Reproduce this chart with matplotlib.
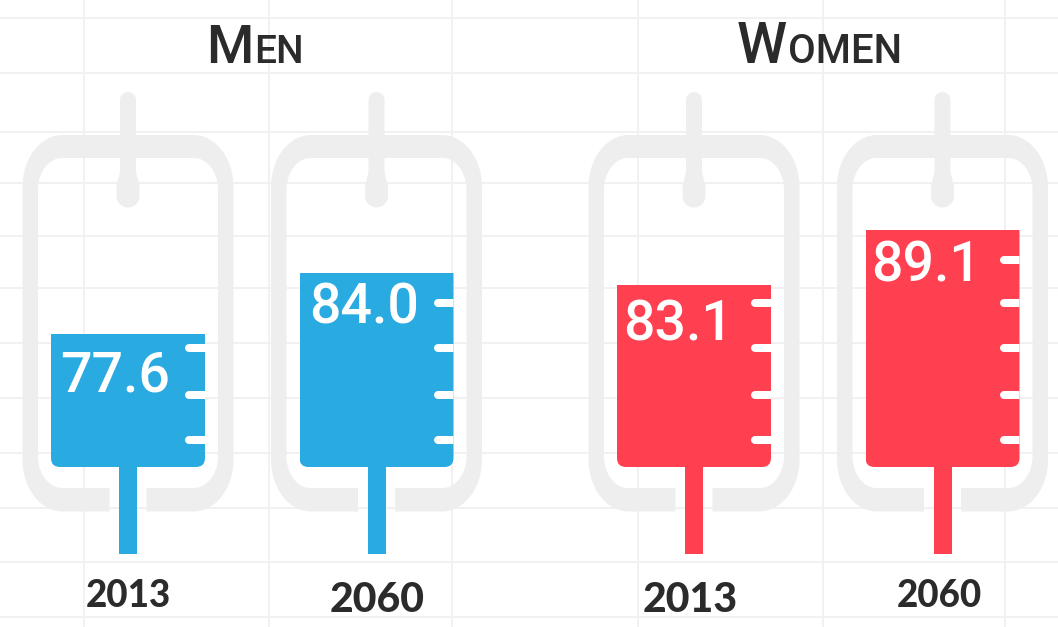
import numpy as np
import matplotlib
matplotlib.use("Agg")
import matplotlib.pyplot as plt
from matplotlib.patches import Polygon, FancyBboxPatch

groups = ["Men", "Men", "Women", "Women"]
years = ["2013", "2060", "2013", "2060"]
values = [77.6, 84.0, 83.1, 89.1]
labels = ["77.6", "84.0", "83.1", "89.1"]

W, H, DPI = 1058, 627, 100
BLUE, RED, GREY, GRID, INK = "#29ABE2", "#FF4050", "#EEEEEE", "#F1F1F1", "#2B2B2B"
px = lambda p: p * 72 / DPI

fig = plt.figure(figsize=(W / DPI, H / DPI), dpi=DPI, facecolor="white")

def layer(z):
    a = fig.add_axes([0, 0, 1, 1], zorder=z)
    a.set_xlim(0, W)
    a.set_ylim(H, 0)
    a.axis("off")
    a.patch.set_alpha(0)
    return a

back = layer(1)
front = layer(3)

for gx in [84, 269, 452, 638, 823, 1005]:
    back.plot([gx, gx], [0, H], color=GRID, lw=px(2), zorder=1)
for gy in [18, 73, 132, 183, 236, 288, 343, 398, 453, 508, 562, 617]:
    back.plot([0, W], [gy, gy], color=GRID, lw=px(2), zorder=1)

# Level scale: the fill height for each value
v_knots = np.array([45.38, 63.0, 77.6, 83.1, 84.0, 89.1, 114.43])
y_knots = np.array([627.0, 467.0, 334.0, 285.0, 273.0, 230.0, 0.0])
forward = lambda v: np.interp(v, v_knots, -y_knots)
inverse = lambda s: np.interp(s, -y_knots, v_knots)

data = fig.add_axes([0, 0, 1, 1], zorder=2)
data.set_xlim(0, W)
data.set_yscale("function", functions=(forward, inverse))
data.set_ylim(v_knots[0], v_knots[-1])
data.axis("off")
data.patch.set_alpha(0)

def corner(cx, cy, rx, ry, a0, a1, n=24):
    t = np.radians(np.linspace(a0, a1, n))
    return np.column_stack([cx + rx * np.cos(t), cy + ry * np.sin(t)])

def bag(c):
    ho, hi, gap = 105.5, 90.0, 18.5
    t_o, b_o, t_i, b_i = 135.0, 511.5, 158.0, 488.0
    rxo, ryo, rxi, ryi = 40.0, 52.0, 24.0, 32.0
    pts = [
        [[c - gap, b_o]],
        corner(c - ho + rxo, b_o - ryo, rxo, ryo, 90, 180),
        corner(c - ho + rxo, t_o + ryo, rxo, ryo, 180, 270),
        corner(c + ho - rxo, t_o + ryo, rxo, ryo, 270, 360),
        corner(c + ho - rxo, b_o - ryo, rxo, ryo, 0, 90),
        [[c + gap, b_o], [c + gap, b_i]],
        corner(c + hi - rxi, b_i - ryi, rxi, ryi, 90, 0),
        corner(c + hi - rxi, t_i + ryi, rxi, ryi, 360, 270),
        corner(c - hi + rxi, t_i + ryi, rxi, ryi, 270, 180),
        corner(c - hi + rxi, b_i - ryi, rxi, ryi, 180, 90),
        [[c - gap, b_i]],
    ]
    return np.vstack(pts)

def hook(c):
    # straight shank that swells into a rounded drop
    left = [[c - 8, 100], [c - 8, 172], [c - 9.5, 178], [c - 11.5, 186]]
    bulb = corner(c, 196, 11.5, 11.5, 180, 0)
    right = [[c + 11.5, 186], [c + 9.5, 178], [c + 8, 172], [c + 8, 100]]
    cap = corner(c, 100, 8, 8, 0, -180)
    return np.vstack([left, bulb, right, cap])

centers = [128, 376.5, 694, 942.5]
fill_w = 154
base_value = v_knots[1]
tick_rows = [440, 395, 348, 303, 260]
label_left = [60, 309, 623, 871]
label_mid = [376, 308, 325, 266]
year_x = [128, 377, 690, 939]
year_mid = [596, 600, 600, 596]
year_size = [26.5, 29.5, 29.5, 26.5]

for i, c in enumerate(centers):
    col = BLUE if groups[i] == "Men" else RED
    back.add_patch(Polygon(bag(c), closed=True, fc=GREY, ec="none", zorder=2))
    back.add_patch(Polygon(hook(c), closed=True, fc=GREY, ec="none", zorder=2))
    back.plot([c, c], [460, 554], color=col, lw=px(18), solid_capstyle="butt", zorder=3)

    clip = FancyBboxPatch((c - fill_w / 2 + 9, 60), fill_w - 18, 398,
                          boxstyle="round,pad=9,rounding_size=9",
                          transform=back.transData)
    bars = data.bar(c, values[i] - base_value, bottom=base_value, width=fill_w, color=col, linewidth=0)
    bars[0].set_clip_path(clip)

    right = c + fill_w / 2
    top = forward(values[i]) * -1
    for ty in tick_rows:
        if ty > top + 5:
            ln, = front.plot([right - 16, right + 6], [ty, ty], color="white", lw=px(8),
                             solid_capstyle="round", zorder=4)
            ln.set_clip_path(clip)

    front.text(label_left[i], label_mid[i], labels[i], color="white", fontsize=40,
               family="Roboto", weight="medium", ha="left", va="center", zorder=5)
    front.text(year_x[i], year_mid[i], years[i], color=INK, fontsize=year_size[i],
               family="Lato", weight="black", ha="center", va="center", zorder=5)

def title(x, caps, rest, big, small):
    a = front.text(x, 63, caps, color=INK, fontsize=big, family="Roboto", weight="medium",
                   ha="left", va="baseline", zorder=5)
    r = fig.canvas.get_renderer()
    end = front.transData.inverted().transform(a.get_window_extent(r).get_points())[1, 0]
    front.text(end + 1, 63, rest, color=INK, fontsize=small, family="Roboto", weight="medium",
               ha="left", va="baseline", zorder=5)

title(206, "M", "EN", 39, 28)
title(737, "W", "OMEN", 41, 29)

fig.savefig("out.png", dpi=DPI, facecolor="white")
